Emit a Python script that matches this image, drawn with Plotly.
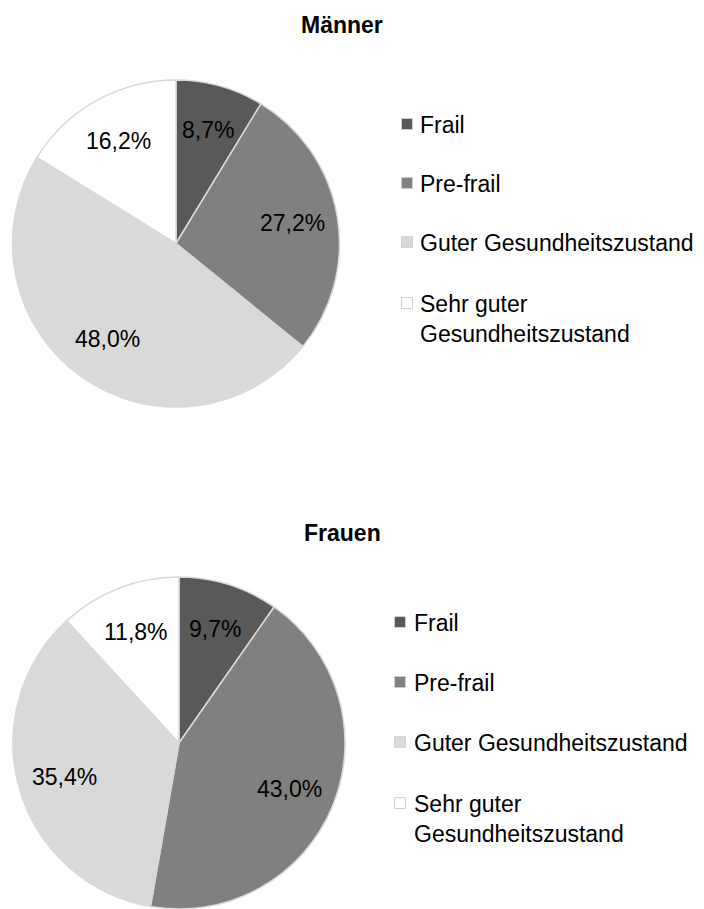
import math
import plotly.graph_objects as go

categories = ["Frail", "Pre-frail", "Guter Gesundheitszustand", "Sehr guter Gesundheitszustand"]
legend_labels = ["Frail", "Pre-frail", "Guter Gesundheitszustand", "Sehr guter<br>Gesundheitszustand"]
maenner_values = [8.7, 27.2, 48.0, 16.2]
frauen_values = [9.7, 43.0, 35.4, 11.8]
titles = ["Männer", "Frauen"]
colors = ["#595959", "#808080", "#d9d9d9", "#ffffff"]

W, H = 704, 909
OFF = 8  # page body margin of the browser
FONT = "Liberation Sans, Arial, sans-serif"

fig = go.Figure()


def px_x(x):
    return (x - OFF) / W


def px_y(y):
    return 1 - (y - OFF) / H


# pie boxes in page pixels: (left, right, top, bottom)
pie_boxes = [(12, 340, 80, 407), (13, 345, 577, 909)]
label_r = 0.72

for vals, box in zip([maenner_values, frauen_values], pie_boxes):
    l, r, t, b = box
    fig.add_trace(go.Pie(
        labels=categories,
        values=vals,
        sort=False,
        direction="clockwise",
        rotation=0,
        domain=dict(x=[px_x(l), px_x(r)], y=[px_y(b), px_y(t)]),
        marker=dict(colors=colors, line=dict(color="#d9d9d9", width=1.5)),
        textinfo="none",
        showlegend=False,
        hoverinfo="label+value",
    ))
    # value labels placed at the middle angle of each slice
    cx, cy = (l + r) / 2, (t + b) / 2
    R = min(r - l, b - t) / 2
    total = sum(vals)
    cum = 0.0
    for v in vals:
        theta = math.radians((cum + v / 2) / total * 360)
        cum += v
        lx = cx + label_r * R * math.sin(theta)
        ly = cy - label_r * R * math.cos(theta)
        fig.add_annotation(
            text=("%.1f%%" % v).replace(".", ","),
            x=px_x(lx), y=px_y(ly), xref="paper", yref="paper",
            showarrow=False, xanchor="center", yanchor="middle",
            font=dict(family=FONT, size=23, color="#000000"),
        )

# Titles
title_y = [25, 533]
for t, ty in zip(titles, title_y):
    fig.add_annotation(
        text="<b>%s</b>" % t, x=px_x(342), y=px_y(ty), xref="paper", yref="paper",
        showarrow=False, xanchor="center", yanchor="middle",
        font=dict(family=FONT, size=23, color="#000000"),
    )

# Manual legends
legend_specs = [
    dict(sq_x=407, txt_x=418, ys=[124, 183, 242, 303]),
    dict(sq_x=400, txt_x=412, ys=[622, 682, 742, 803]),
]
for spec in legend_specs:
    for lab, col, yy in zip(legend_labels, colors, spec["ys"]):
        s = 5.5
        fig.add_shape(
            type="rect", xref="paper", yref="paper",
            x0=px_x(spec["sq_x"] - s), x1=px_x(spec["sq_x"] + s),
            y0=px_y(yy + s), y1=px_y(yy - s),
            fillcolor=col, line=dict(color="#d0d0d0", width=1),
        )
        fig.add_annotation(
            text=lab, x=px_x(spec["txt_x"]), y=px_y(yy - 14), xref="paper", yref="paper",
            showarrow=False, xanchor="left", yanchor="top", align="left",
            font=dict(family=FONT, size=23, color="#000000"),
        )

fig.update_layout(
    width=W, height=H,
    margin=dict(l=0, r=0, t=0, b=0),
    paper_bgcolor="#ffffff",
    plot_bgcolor="#ffffff",
    separators=",.",
    font=dict(family=FONT),
)

fig.write_html("out.html")
